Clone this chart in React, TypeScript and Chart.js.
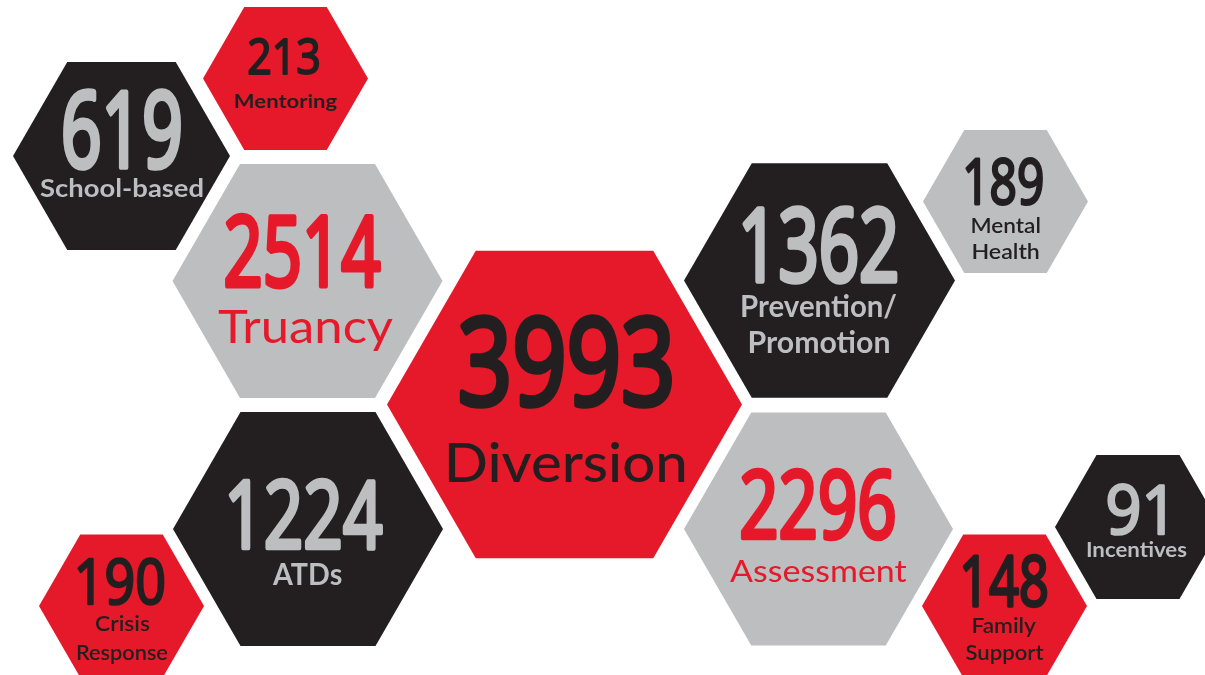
import React, { useEffect, useRef } from "react";
import { Chart, registerables } from "chart.js";

Chart.register(...registerables);

// ---- data ----
const categories = [
  "Diversion",
  "Truancy",
  "Prevention/Promotion",
  "Assessment",
  "ATDs",
  "School-based",
  "Mentoring",
  "Mental Health",
  "Crisis Response",
  "Family Support",
  "Incentives",
];
const values = [3993, 2514, 1362, 2296, 1224, 619, 213, 189, 190, 148, 91];
const labelLines = [
  ["Diversion"],
  ["Truancy"],
  ["Prevention/", "Promotion"],
  ["Assessment"],
  ["ATDs"],
  ["School-based"],
  ["Mentoring"],
  ["Mental", "Health"],
  ["Crisis", "Response"],
  ["Family", "Support"],
  ["Incentives"],
];

// ---- layout (bubble positions in a 1205 x 675 data space) ----
const hexX = [564.5, 307.5, 819.5, 818.5, 308, 121.5, 285.5, 1005.5, 121.5, 1004.5, 1138];
const hexY = [404.5, 281, 280.5, 529, 529, 156, 78.5, 201.5, 606, 606, 527];
const hexR = [177.5, 135, 135.5, 134.5, 135, 108.5, 82.5, 82.5, 82.5, 82.5, 83];

// ---- styles ----
const RED = "#E5192A";
const BLACK = "#231F20";
const GRAY = "#BCBEC0";
const fillColors = [RED, GRAY, BLACK, GRAY, BLACK, BLACK, RED, GRAY, RED, RED, BLACK];
const textColors = [BLACK, RED, GRAY, RED, GRAY, GRAY, BLACK, BLACK, BLACK, BLACK, GRAY];
const labelWeights = [500, 400, 700, 400, 700, 700, 700, 600, 600, 600, 700];
// digit box: dx, dy (center offset), height, width
const digitBox = [
  [1.5, -43.5, 92, 213],
  [-4.5, -31, 75, 157],
  [0.5, -36.5, 78, 155],
  [-0.5, -25, 72, 155],
  [-2, -15, 72, 155],
  [0.5, -27, 80, 119],
  [-1.5, -22.5, 38, 72],
  [-1.5, -19.5, 47, 78],
  [-0.5, -25, 48, 88],
  [0.5, -25, 53, 85],
  [-2, -18, 52, 58],
];
// label: dx, cap height, baselines dy per line, widths per line
const labelDx = [2, -2, 0, 0, -1, 0, 0.5, 0, 1, 0, -1];
const labelCap = [40, 34, 22, 22, 22, 18, 14, 16, 15, 16, 15];
const labelBase = [[77.5], [62], [36.5, 72.5], [53], [56], [41], [29.5], [31.5, 57.5], [25, 54], [27, 54], [30]];
const labelW = [[237], [175], [155, 140], [177], [70], [163], [102], [68, 66], [55, 91], [64, 78], [100]];

const DIGIT_FONT = '"Open Sans", "DejaVu Sans", sans-serif';
const LABEL_FONT = 'Lato, "Noto Sans", sans-serif';

function drawFit(
  ctx: CanvasRenderingContext2D,
  text: string,
  cx: number,
  baseline: number,
  weight: number,
  family: string,
  capPx: number,
  refText: string,
  targetW: number,
  color: string,
  strokeW: number
) {
  ctx.font = `${weight} 100px ${family}`;
  const ref = ctx.measureText(refText);
  const cap100 = ref.actualBoundingBoxAscent || 72;
  const size = (100 * (capPx - strokeW)) / cap100;
  ctx.font = `${weight} ${size}px ${family}`;
  ctx.textAlign = "left";
  ctx.textBaseline = "alphabetic";
  const m = ctx.measureText(text);
  const L = m.actualBoundingBoxLeft;
  const Rr = m.actualBoundingBoxRight;
  const inkW = L + Rr || m.width;
  const sx = (targetW - strokeW) / inkW;
  ctx.save();
  ctx.translate(cx, baseline - strokeW / 2);
  ctx.scale(sx, 1);
  ctx.fillStyle = color;
  ctx.fillText(text, -(Rr - L) / 2, 0);
  if (strokeW > 0) {
    ctx.strokeStyle = color;
    ctx.lineJoin = "round";
    ctx.lineCap = "round";
    ctx.lineWidth = strokeW / sx;
    ctx.strokeText(text, -(Rr - L) / 2, 0);
  }
  ctx.restore();
}

const hexPlugin = {
  id: "hexes",
  afterDatasetsDraw(chart: any) {
    const ctx: CanvasRenderingContext2D = chart.ctx;
    const meta = chart.getDatasetMeta(0);
    const xs = chart.scales.x;
    const k = (xs.getPixelForValue(1000) - xs.getPixelForValue(0)) / 1000;
    meta.data.forEach((el: any, i: number) => {
      const cx = el.x;
      const cy = el.y;
      const R = hexR[i] * k;
      ctx.save();
      ctx.beginPath();
      for (let j = 0; j < 6; j++) {
        const a = (Math.PI / 3) * j;
        const px = cx + R * Math.cos(a);
        const py = cy + R * Math.sin(a);
        if (j === 0) ctx.moveTo(px, py);
        else ctx.lineTo(px, py);
      }
      ctx.closePath();
      ctx.fillStyle = fillColors[i];
      ctx.fill();
      ctx.restore();

      const [ddx, ddy, dh, dw] = digitBox[i];
      const txt = String(values[i]);
      drawFit(
        ctx,
        txt,
        cx + ddx * k,
        cy + (ddy + dh / 2) * k,
        400,
        DIGIT_FONT,
        dh * k,
        txt,
        dw * k,
        textColors[i],
        dh * k * 0.048
      );

      labelLines[i].forEach((line, li) => {
        drawFit(
          ctx,
          line,
          cx + labelDx[i] * k,
          cy + labelBase[i][li] * k,
          labelWeights[i],
          LABEL_FONT,
          labelCap[i] * k,
          "H",
          labelW[i][li] * k,
          textColors[i],
          0
        );
      });
    });
  },
};

export default function App() {
  const ref = useRef<HTMLCanvasElement | null>(null);
  useEffect(() => {
    if (!ref.current) return;
    const chart = new Chart(ref.current, {
      type: "bubble",
      data: {
        labels: categories,
        datasets: [
          {
            label: "Programs",
            data: hexX.map((x, i) => ({ x, y: hexY[i], r: 0 })),
            backgroundColor: "rgba(0,0,0,0)",
            borderWidth: 0,
          },
        ],
      },
      options: {
        animation: false,
        responsive: true,
        maintainAspectRatio: false,
        layout: { padding: 0, autoPadding: false },
        scales: {
          x: { type: "linear", min: 0, max: 1205, display: false },
          y: { type: "linear", min: 0, max: 675, reverse: true, display: false },
        },
        plugins: { legend: { display: false }, tooltip: { enabled: false } },
      } as any,
      plugins: [hexPlugin],
    });
    return () => chart.destroy();
  }, []);
  return (
    <div style={{ position: "absolute", left: 0, top: 0, width: 1205, height: 675, background: "#fff" }}>
      <canvas ref={ref} />
    </div>
  );
}
